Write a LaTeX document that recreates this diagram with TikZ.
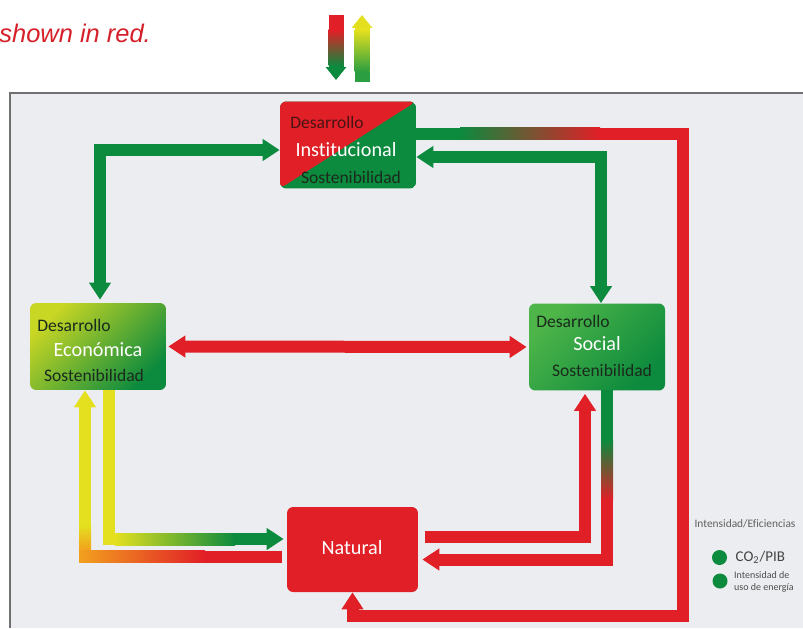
\documentclass[tikz,border=0pt]{standalone}
\usepackage{fontspec}
\setmainfont{Carlito}[Ligatures=NoCommon]
\newfontfamily\arialfont{Liberation Sans}
\usetikzlibrary{arrows.meta,calc,positioning}

\definecolor{ired}{HTML}{E11F27}
\definecolor{igreen}{HTML}{0C8A3E}
\definecolor{iyellow}{HTML}{E4E01F}
\definecolor{iorange}{HTML}{F2A01E}
\definecolor{framebg}{HTML}{ECEDF0}
\definecolor{framegray}{HTML}{707070}
\definecolor{capred}{HTML}{D5202A}
\definecolor{darkred}{HTML}{4A1414}
\definecolor{darkgreen}{HTML}{1A2A1C}
\definecolor{leggray}{HTML}{606060}
\definecolor{lightgreen}{HTML}{4EB548}
\definecolor{midgreen}{HTML}{2A9E40}

\begin{document}
\begin{tikzpicture}[x=0.02cm, y=-0.02cm,
  box/.style={rounded corners=3.5pt, minimum width=2.72cm, minimum height=1.74cm, inner sep=0pt},
  bar/.style={line width=0.24cm, -{Triangle[width=0.42cm,length=0.34cm]}},
  dbar/.style={line width=0.24cm, {Triangle[width=0.42cm,length=0.34cm]}-{Triangle[width=0.42cm,length=0.34cm]}},
  big/.style={font=\fontsize{11.5}{13}\selectfont, text=white},
  small/.style={font=\fontsize{10}{12}\selectfont, text=darkgreen},
  dot/.style={circle, fill=igreen, minimum size=0.3cm, inner sep=0pt}]

\useasboundingbox (0,0) rectangle (803,628);

% caption
\path (-1,43) node[anchor=base west, inner sep=0pt, text=capred, font=\arialfont\itshape\fontsize{14.5}{17}\selectfont] (cap) {shown in red.};

% key arrows on top
\coordinate (dnTop) at (336,15);
\coordinate (dnTip) at (336,80);
\draw[igreen, line width=0.3cm, -{Triangle[width=0.4cm,length=0.26cm]}] (dnTop) -- (dnTip);
\fill[ired] (328.5,15) rectangle (343.5,30);
\shade[top color=ired, bottom color=igreen] (328.5,30) rectangle (343.5,66);
\coordinate (upTop) at (362,15);
\coordinate (upTip) at (362,82);
\draw[iyellow, line width=0.3cm, -{Triangle[width=0.4cm,length=0.26cm]}] (upTip) -- (upTop);
\shade[top color=iyellow, bottom color=midgreen] (354.5,30) rectangle (369.5,72);
\fill[midgreen] (354.5,72) rectangle (369.5,82);

% frame
\fill[framebg] (10,93) rectangle (803,628);
\draw[framegray, line width=1.1pt] (10,628) -- (10,93) -- (803,93);

% boxes
\node[box, path picture={
    \fill[igreen] (path picture bounding box.south west) rectangle (path picture bounding box.north east);
    \fill[ired] (path picture bounding box.south west) -- (path picture bounding box.north west) -- (path picture bounding box.north east) -- cycle;}]
  (inst) at (348,145) {};
\node[box, top color=iyellow!85!midgreen, middle color=midgreen, bottom color=igreen, shading angle=45] (econ) at (98,346.5) {};
\node[box, top color=lightgreen, bottom color=igreen, shading angle=45] (soc) at (597,347) {};
\node[box, fill=ired, minimum width=2.62cm, minimum height=1.7cm] (nat) at (352.5,549.5) {};

% box texts
\path (327,122.5) node[small, text=darkred] (instA) {Desarrollo};
\path (346,150) node[big] (instB) {Institucional};
\path (351,177) node[small] (instC) {Sostenibilidad};
\path (74,325) node[small] (econA) {Desarrollo};
\path (98,350) node[big] (econB) {Económica};
\path (94,375) node[small] (econC) {Sostenibilidad};
\path (573,321) node[small] (socA) {Desarrollo};
\path (597,344) node[big] (socB) {Social};
\path (602,370) node[small] (socC) {Sostenibilidad};
\path (352,548) node[big] (natB) {Natural};

% green links
\draw[dbar, igreen, shorten <=0.06cm] ($(econ.north)+(2,0)$) |- ($(inst.west)+(0,5)$);
\draw[dbar, igreen] ($(inst.east)+(0,12)$) -| ($(soc.north)+(4,0)$);

% red loop back to natural
\coordinate (loopc) at (683,616);
\draw[bar, ired] ($(inst.east)+(0,-11)$) -| (loopc) -| (nat.south);
\fill[igreen] (416,128) rectangle (460,140);
\shade[left color=igreen, right color=ired] (460,128) rectangle (600,140);

% economica <-> social
\draw[dbar, ired, shorten <=0.04cm, shorten >=0.04cm] (econ.east) -- (soc.west);

% economica -- natural
\draw[bar, igreen] ($(econ.south)+(11,0)$) |- ($(nat.west)+(-3,-10.5)$);
\fill[iyellow] (103,390) rectangle (115,545);
\shade[left color=iyellow, right color=igreen] (115,533) rectangle (235,545);
\draw[bar, iyellow, shorten <=0.1cm] ($(nat.west)+(0,7)$) -| ($(econ.south)+(-13,0)$);
\shade[top color=iyellow, bottom color=iorange] (79,525) rectangle (91,550.5);
\shade[left color=iorange, right color=ired] (79,550.5) rectangle (205,562.5);
\fill[ired] (205,550.5) rectangle (282,562.5);

% social -- natural
\draw[bar, ired, shorten <=0.14cm, shorten >=0.06cm] ($(nat.east)+(0,-12.5)$) -| ($(soc.south)+(-12,0)$);
\draw[bar, ired, shorten >=0.08cm] ($(soc.south)+(10,0)$) |- ($(nat.east)+(0,10)$);
\fill[igreen] (601,390) rectangle (613,440);
\shade[top color=igreen, bottom color=ired] (601,440) rectangle (613,500);

% legend
\path (745,524) node[font=\fontsize{6.5}{8}\selectfont, text=leggray] (legT) {Intensidad/Eficiencias};
\node[dot] (dotA) at (719.5,557.5) {};
\node[dot] (dotB) at (720,581) {};
\node[font=\fontsize{8.5}{10}\selectfont, text=leggray!70!black, right=0.2cm of dotA.center] (legA) {CO\textsubscript{2}/PIB};
\path (732,582) node[anchor=west, inner sep=1pt, align=left, font=\fontsize{5.7}{6.9}\selectfont, text=leggray!80!black] (legB) {Intensidad de\\uso de energía};

\end{tikzpicture}
\end{document}
